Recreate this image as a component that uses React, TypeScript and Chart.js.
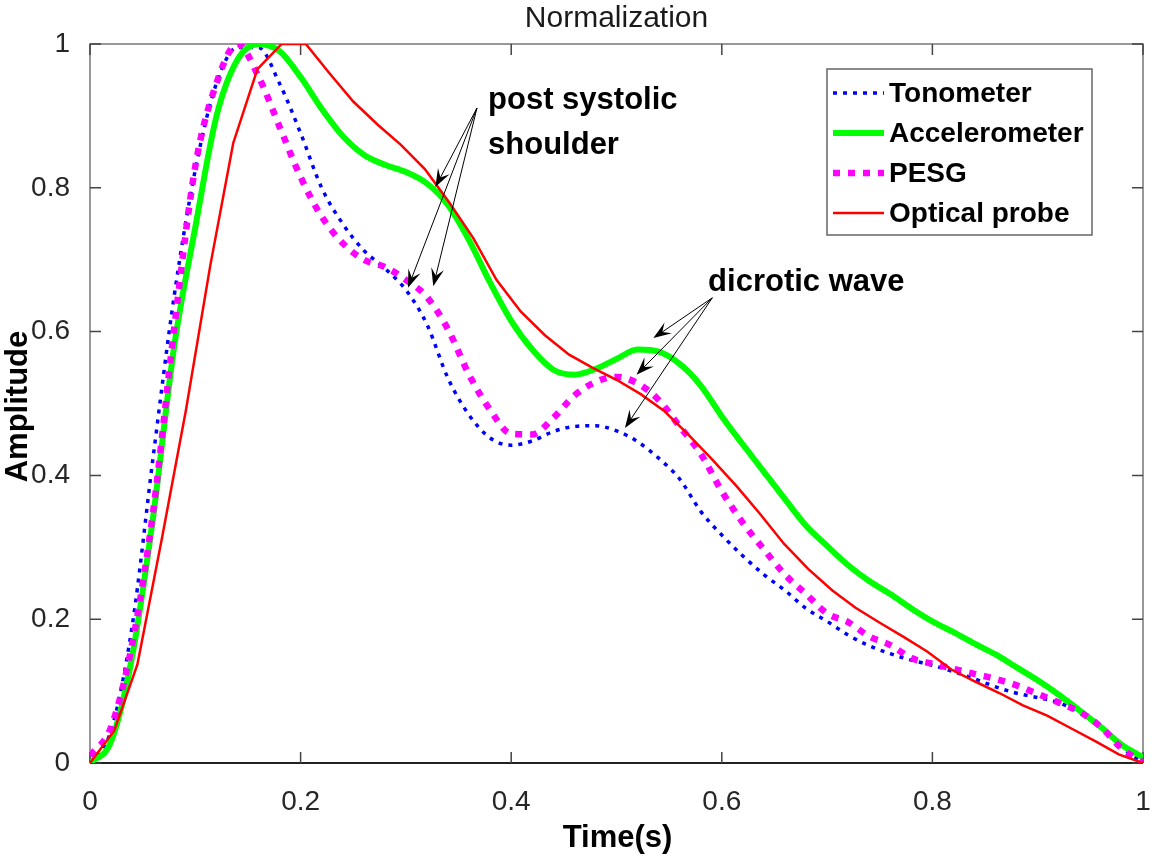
import { useEffect, useRef } from 'react'
import Chart from 'chart.js/auto'

// sample times (s) for the smooth traces
const timeGrid = [
  0, 0.02, 0.04, 0.06, 0.08, 0.1, 0.12, 0.14, 0.16, 0.18,
  0.2, 0.22, 0.24, 0.26, 0.28, 0.3, 0.32, 0.34, 0.36, 0.38,
  0.4, 0.42, 0.44, 0.46, 0.48, 0.5, 0.52, 0.54, 0.56, 0.58,
  0.6, 0.62, 0.64, 0.66, 0.68, 0.7, 0.72, 0.74, 0.76, 0.78,
  0.8, 0.82, 0.84, 0.86, 0.88, 0.9, 0.92, 0.94, 0.96, 0.98, 1,
]

const tonometer = [
  0, 0.045, 0.19, 0.426, 0.65, 0.825, 0.945, 0.995, 0.995, 0.945,
  0.876, 0.8, 0.75, 0.713, 0.688, 0.658, 0.61, 0.535, 0.484, 0.452,
  0.442, 0.448, 0.461, 0.468, 0.469, 0.462, 0.447, 0.424, 0.395, 0.35,
  0.317, 0.288, 0.262, 0.24, 0.215, 0.197, 0.178, 0.163, 0.152, 0.143,
  0.136, 0.127, 0.117, 0.106, 0.097, 0.091, 0.084, 0.07, 0.05, 0.022, 0,
]

const accelerometer = [
  0, 0.03, 0.148, 0.343, 0.58, 0.745, 0.899, 0.978, 1, 0.99,
  0.954, 0.91, 0.872, 0.846, 0.832, 0.822, 0.806, 0.776, 0.727, 0.668,
  0.615, 0.575, 0.547, 0.54, 0.548, 0.562, 0.575, 0.572, 0.555, 0.525,
  0.482, 0.443, 0.405, 0.367, 0.33, 0.302, 0.275, 0.253, 0.235, 0.215,
  0.197, 0.182, 0.166, 0.151, 0.133, 0.115, 0.095, 0.073, 0.05, 0.025, 0.008,
]

const pesg = [
  0.01, 0.05, 0.165, 0.35, 0.605, 0.83, 0.945, 1, 0.955, 0.885,
  0.815, 0.76, 0.723, 0.7, 0.69, 0.672, 0.648, 0.603, 0.54, 0.491,
  0.458, 0.457, 0.48, 0.511, 0.53, 0.537, 0.528, 0.505, 0.468, 0.43,
  0.378, 0.334, 0.297, 0.262, 0.235, 0.208, 0.196, 0.176, 0.164, 0.146,
  0.138, 0.131, 0.124, 0.117, 0.108, 0.096, 0.084, 0.071, 0.05, 0.02, 0,
]

// the optical probe trace is coarser (piecewise linear)
const opticalTime = [
  0, 0.023, 0.045, 0.068, 0.091, 0.114, 0.136, 0.159, 0.182, 0.205,
  0.227, 0.25, 0.273, 0.295, 0.318, 0.341, 0.364, 0.386, 0.409, 0.432,
  0.455, 0.477, 0.5, 0.523, 0.545, 0.568, 0.591, 0.614, 0.636, 0.659,
  0.682, 0.705, 0.727, 0.75, 0.773, 0.795, 0.818, 0.841, 0.864, 0.886,
  0.909, 0.932, 0.955, 0.977, 1,
]

const optical = [
  0, 0.045, 0.137, 0.31, 0.49, 0.69, 0.862, 0.965, 1, 1,
  0.96, 0.92, 0.888, 0.86, 0.826, 0.78, 0.73, 0.672, 0.628, 0.595,
  0.568, 0.55, 0.533, 0.513, 0.49, 0.457, 0.422, 0.385, 0.347, 0.305,
  0.27, 0.24, 0.216, 0.195, 0.175, 0.155, 0.13, 0.113, 0.097, 0.08,
  0.066, 0.048, 0.03, 0.012, 0,
]

const axisTicks = [0, 0.2, 0.4, 0.6, 0.8, 1]

const seriesNames = ['Tonometer', 'Accelerometer', 'PESG', 'Optical probe']

// annotation text and arrows, in data coordinates
const notes = [
  { text: ['post systolic', 'shoulder'], x: 0.378, y: 0.922 },
  { text: ['dicrotic wave'], x: 0.587, y: 0.669 },
]
const arrows = [
  { from: [0.3675, 0.911], to: [0.328, 0.801] },
  { from: [0.3675, 0.911], to: [0.302, 0.661] },
  { from: [0.3675, 0.911], to: [0.326, 0.663] },
  { from: [0.591, 0.647], to: [0.535, 0.591] },
  { from: [0.591, 0.647], to: [0.519, 0.54] },
  { from: [0.591, 0.647], to: [0.508, 0.466] },
]

const FONT = '"Liberation Sans", Arial, sans-serif'

const pairs = (xs: number[], ys: number[]) => xs.map((x, i) => ({ x, y: ys[i] }))

function drawArrow(ctx: CanvasRenderingContext2D, x1: number, y1: number, x2: number, y2: number) {
  const ang = Math.atan2(y2 - y1, x2 - x1)
  const len = 18
  const half = 6.5
  ctx.save()
  ctx.strokeStyle = '#000'
  ctx.fillStyle = '#000'
  ctx.lineWidth = 1
  ctx.beginPath()
  ctx.moveTo(x1, y1)
  ctx.lineTo(x2 - Math.cos(ang) * 9, y2 - Math.sin(ang) * 9)
  ctx.stroke()
  const bx = x2 - Math.cos(ang) * len
  const by = y2 - Math.sin(ang) * len
  const nx = x2 - Math.cos(ang) * (len * 0.6)
  const ny = y2 - Math.sin(ang) * (len * 0.6)
  ctx.beginPath()
  ctx.moveTo(x2, y2)
  ctx.lineTo(bx + Math.sin(ang) * half, by - Math.cos(ang) * half)
  ctx.lineTo(nx, ny)
  ctx.lineTo(bx - Math.sin(ang) * half, by + Math.cos(ang) * half)
  ctx.closePath()
  ctx.fill()
  ctx.restore()
}

const matlabLook = {
  id: 'matlabLook',
  beforeDatasetsDraw(chart: any) {
    const { ctx, chartArea: a, scales } = chart
    ctx.save()
    // box
    ctx.strokeStyle = '#777'
    ctx.lineWidth = 1.5
    ctx.beginPath()
    ctx.moveTo(a.left, a.bottom)
    ctx.lineTo(a.left, a.top)
    ctx.lineTo(a.right, a.top)
    ctx.lineTo(a.right, a.bottom)
    ctx.stroke()
    ctx.strokeStyle = '#222'
    ctx.lineWidth = 2
    ctx.beginPath()
    ctx.moveTo(a.left, a.bottom)
    ctx.lineTo(a.right, a.bottom)
    ctx.stroke()
    // inward ticks on all sides
    const tl = 11
    ctx.lineWidth = 1.5
    ctx.strokeStyle = '#444'
    axisTicks.forEach((v) => {
      const px = scales.x.getPixelForValue(v)
      const py = scales.y.getPixelForValue(v)
      ctx.beginPath()
      ctx.moveTo(px, a.bottom)
      ctx.lineTo(px, a.bottom - tl)
      ctx.moveTo(px, a.top)
      ctx.lineTo(px, a.top + tl)
      ctx.moveTo(a.left, py)
      ctx.lineTo(a.left + tl, py)
      ctx.moveTo(a.right, py)
      ctx.lineTo(a.right - tl, py)
      ctx.stroke()
    })
    ctx.restore()
  },
  afterDatasetsDraw(chart: any) {
    const { ctx, chartArea: a, scales } = chart
    const cx = (a.left + a.right) / 2
    ctx.save()

    // title and axis labels
    ctx.fillStyle = '#1a1a1a'
    ctx.textAlign = 'center'
    ctx.textBaseline = 'middle'
    ctx.font = `30px ${FONT}`
    ctx.fillText('Normalization', cx, a.top - 25)
    ctx.fillStyle = '#000'
    ctx.font = `bold 31px ${FONT}`
    ctx.fillText('Time(s)', cx + 1, a.bottom + 75)
    ctx.save()
    ctx.translate(18, (a.top + a.bottom) / 2 + 3)
    ctx.rotate(-Math.PI / 2)
    ctx.fillText('Amplitude', 0, 0)
    ctx.restore()

    // annotations
    ctx.textAlign = 'left'
    ctx.font = `bold 31px ${FONT}`
    notes.forEach((n) => {
      const px = scales.x.getPixelForValue(n.x)
      const py = scales.y.getPixelForValue(n.y)
      n.text.forEach((line, i) => ctx.fillText(line, px, py + i * 45))
    })
    arrows.forEach((ar) => {
      drawArrow(
        ctx,
        scales.x.getPixelForValue(ar.from[0]),
        scales.y.getPixelForValue(ar.from[1]),
        scales.x.getPixelForValue(ar.to[0]),
        scales.y.getPixelForValue(ar.to[1]),
      )
    })

    // legend box
    const bx = a.right - 316
    const by = a.top + 25
    const bw = 265
    const bh = 166
    ctx.fillStyle = '#fff'
    ctx.fillRect(bx, by, bw, bh)
    ctx.strokeStyle = '#666'
    ctx.lineWidth = 1.5
    ctx.strokeRect(bx, by, bw, bh)
    ctx.font = `bold 28px ${FONT}`
    ctx.textBaseline = 'middle'
    chart.data.datasets.forEach((ds: any, i: number) => {
      const ry = by + 24 + i * 40
      ctx.save()
      ctx.strokeStyle = ds.borderColor
      ctx.lineWidth = ds.borderWidth
      ctx.setLineDash(ds.borderDash || [])
      ctx.beginPath()
      ctx.moveTo(bx + 6, ry)
      ctx.lineTo(bx + 57, ry)
      ctx.stroke()
      ctx.restore()
      ctx.fillStyle = '#000'
      ctx.fillText(ds.label, bx + 62, ry + 1)
    })
    ctx.restore()
  },
}

const noPad = (s: any) => {
  s.paddingLeft = 0
  s.paddingRight = 0
  s.paddingTop = 0
  s.paddingBottom = 0
}

export default function App() {
  const canvasRef = useRef<HTMLCanvasElement>(null)
  const chartRef = useRef<Chart | null>(null)

  useEffect(() => {
    document.body.style.margin = '0'
    if (!canvasRef.current) return
    if (chartRef.current) chartRef.current.destroy()

    chartRef.current = new Chart(canvasRef.current, {
      type: 'line',
      data: {
        datasets: [
          {
            label: seriesNames[0],
            data: pairs(timeGrid, tonometer),
            borderColor: '#0000ff',
            borderWidth: 3.5,
            borderDash: [4, 6],
            cubicInterpolationMode: 'monotone',
            order: 4,
          },
          {
            label: seriesNames[1],
            data: pairs(timeGrid, accelerometer),
            borderColor: '#00ff00',
            borderWidth: 6,
            cubicInterpolationMode: 'monotone',
            order: 3,
          },
          {
            label: seriesNames[2],
            data: pairs(timeGrid, pesg),
            borderColor: '#ff00ff',
            borderWidth: 6.5,
            borderDash: [7, 8],
            cubicInterpolationMode: 'monotone',
            order: 2,
          },
          {
            label: seriesNames[3],
            data: pairs(opticalTime, optical),
            borderColor: '#ff0000',
            borderWidth: 2.5,
            tension: 0,
            order: 1,
          },
        ] as any,
      },
      options: {
        responsive: true,
        maintainAspectRatio: false,
        animation: false,
        parsing: false as any,
        elements: { point: { radius: 0 } },
        layout: { padding: { top: 44, right: 10, left: 0, bottom: 0 } },
        plugins: { legend: { display: false }, tooltip: { enabled: false } },
        scales: {
          x: {
            type: 'linear',
            min: 0,
            max: 1,
            grid: { display: false },
            border: { display: false },
            afterFit: (s: any) => { s.height = 94; noPad(s) },
            afterBuildTicks: (s: any) => { s.ticks = axisTicks.map((v) => ({ value: v })) },
            ticks: {
              padding: 14,
              color: '#262626',
              font: { family: FONT, size: 28 },
              callback: (v: any) => String(+Number(v).toFixed(1)),
              maxRotation: 0,
            },
          },
          y: {
            type: 'linear',
            min: 0,
            max: 1,
            grid: { display: false },
            border: { display: false },
            afterFit: (s: any) => { s.width = 90; noPad(s) },
            afterBuildTicks: (s: any) => { s.ticks = axisTicks.map((v) => ({ value: v })) },
            ticks: {
              padding: 12,
              color: '#262626',
              font: { family: FONT, size: 28 },
              callback: (v: any) => String(+Number(v).toFixed(1)),
            },
          },
        },
      },
      plugins: [matlabLook],
    })

    return () => {
      if (chartRef.current) {
        chartRef.current.destroy()
        chartRef.current = null
      }
    }
  }, [])

  return (
    <div style={{ position: 'relative', width: 1153, height: 857, background: '#fff' }}>
      <canvas ref={canvasRef} />
    </div>
  )
}
